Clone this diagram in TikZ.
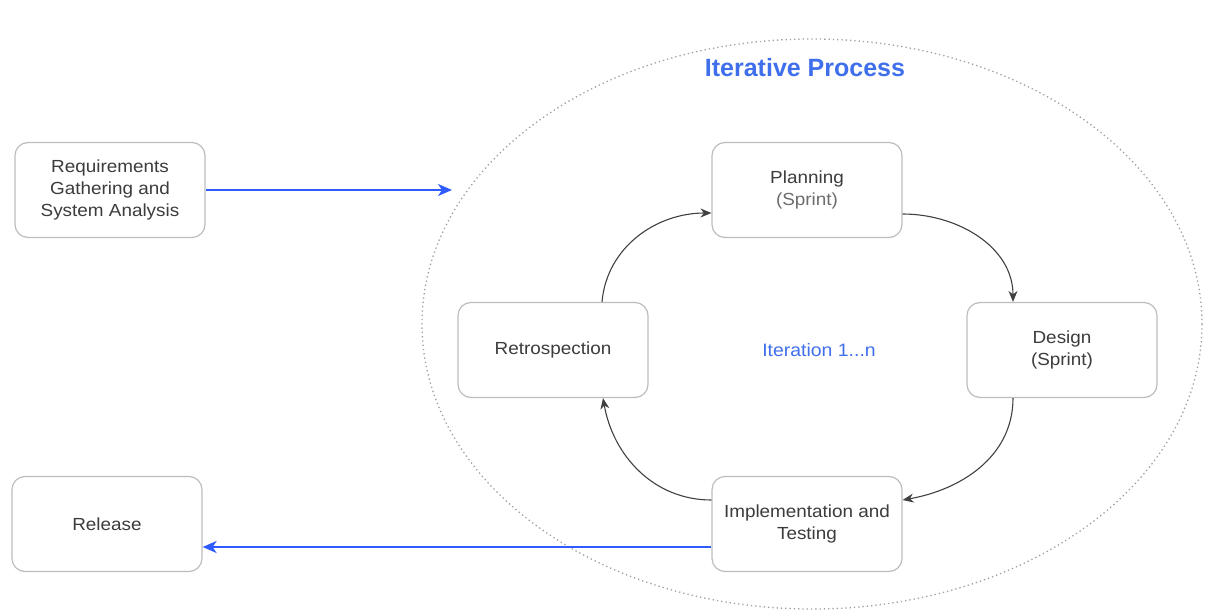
\documentclass[tikz,border=0pt]{standalone}
\usepackage{fontspec}
\setmainfont{Liberation Sans}
\newfontfamily\labelfont[FakeStretch=1.08]{Liberation Sans}
\usetikzlibrary{arrows.meta}
\definecolor{boxline}{HTML}{BDBDBD}
\definecolor{boxtext}{HTML}{3C3C3C}
\definecolor{flowblue}{HTML}{2F5BFF}
\definecolor{titleblue}{HTML}{3F6FEA}
\tikzset{
  stage/.style={draw=boxline, line width=1.2pt, rounded corners=13pt, fill=white,
    minimum width=190pt, minimum height=95pt, align=center, text=boxtext,
    font=\labelfont\fontsize{17.5}{22}\selectfont},
  cycle/.style={draw=black!75, line width=1.1pt, -{Stealth[length=11pt,width=9pt]}},
  flow/.style={draw=flowblue, line width=2pt, -{Stealth[length=14pt,width=12pt,inset=4pt]}},
}
\begin{document}
\begin{tikzpicture}[x=1pt,y=-1pt]
\useasboundingbox (0,0) rectangle (1212,615);
% boundary of the iterative part
\draw[gray!75, line width=1.3pt, dash pattern=on 1.3pt off 3pt] (812,324) ellipse [x radius=390, y radius=285];
\node[text=titleblue, font=\fontsize{25}{28}\selectfont\bfseries] (title) at (805,68) {Iterative Process};
\node[text=titleblue, font=\labelfont\fontsize{18}{20}\selectfont] (iter) at (819,350) {Iteration 1...n};

% stages
\node[stage] (req) at (110,190) {Requirements\\Gathering and\\System Analysis};
\node[stage] (rel) at (107,524) {Release};
\node[stage] (plan) at (807,190) {Planning\\{\color{boxtext!75}(Sprint)}};
\node[stage] (design) at (1062,350) {Design\\(Sprint)};
\node[stage] (retro) at (553,350) {Retrospection};
\node[stage] (impl) at (807,524) {Implementation and\\Testing};

\coordinate (entry) at (452,190);

% flow into and out of the cycle
\draw[flow] (req.east) -- (entry);
\draw[flow] (impl.west |- 0,547) -- (rel.east |- 0,547);

% the iteration cycle
\draw[cycle] (retro.north -| 602,0) to[out=85,in=180] (plan.west |- 0,213);
\draw[cycle] (plan.east |- 0,214) to[out=0,in=90] (design.north -| 1013,0);
\draw[cycle] (design.south -| 1013,0) to[out=-90,in=10] (impl.east |- 0,500);
\draw[cycle] (impl.west |- 0,500) to[out=180,in=-80] (retro.south -| 603,0);
\end{tikzpicture}
\end{document}
